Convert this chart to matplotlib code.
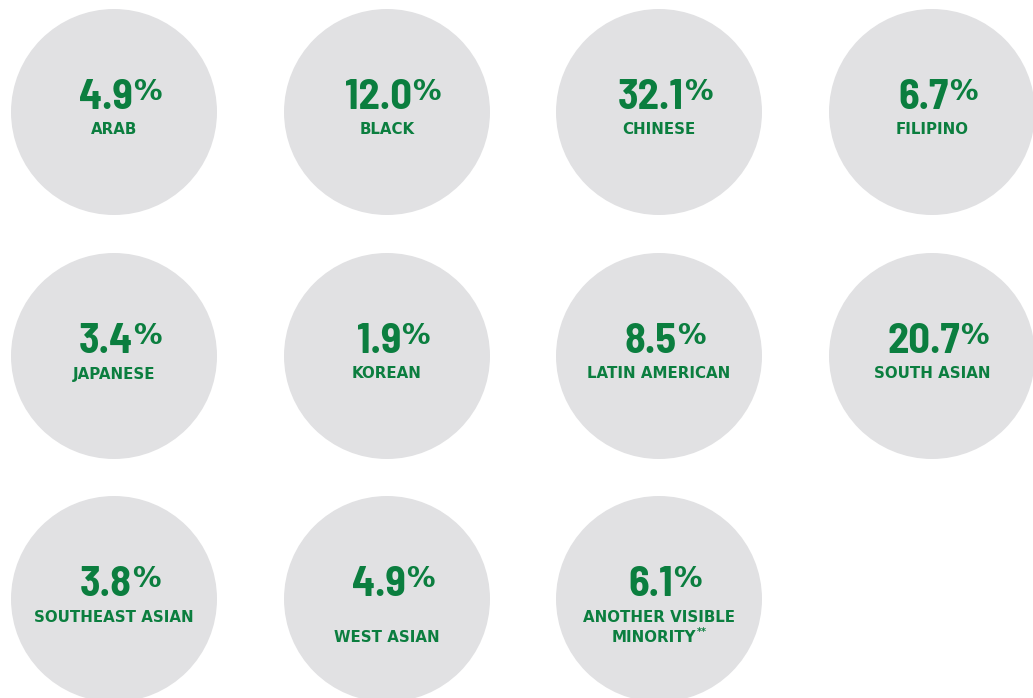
import warnings
import logging
import matplotlib
matplotlib.use("Agg")
import matplotlib.pyplot as plt
from matplotlib.patches import Circle

logging.getLogger("matplotlib.font_manager").setLevel(logging.ERROR)
warnings.filterwarnings("ignore")

categories = ["ARAB", "BLACK", "CHINESE", "FILIPINO",
              "JAPANESE", "KOREAN", "LATIN AMERICAN", "SOUTH ASIAN",
              "SOUTHEAST ASIAN", "\nWEST ASIAN", "ANOTHER VISIBLE\nMINORITY"]
footnotes = ["", "", "", "", "", "", "", "", "", "", "**"]
values = [4.9, 12.0, 32.1, 6.7, 3.4, 1.9, 8.5, 20.7, 3.8, 4.9, 6.1]

W, H = 1033, 698
GREEN = "#0b7e3f"
GRAY = "#e1e1e3"
NUM_FONT = ["Barlow Semi Condensed", "Roboto Condensed", "Liberation Sans"]
LBL_FONT = ["DejaVu Sans"]

fig = plt.figure(figsize=(W / 100, H / 100), dpi=100)
ax = fig.add_axes([0, 0, 1, 1])
ax.set_xlim(0, W)
ax.set_ylim(H, 0)
ax.axis("off")

col_x = [114, 387, 659, 932]
row_y = [112, 356, 599]
R = 103

fig.canvas.draw()
renderer = fig.canvas.get_renderer()


def width(t):
    return t.get_window_extent(renderer).width


for i, (cat, val, fn) in enumerate(zip(categories, values, footnotes)):
    r, c = divmod(i, 4)
    cx, cy = col_x[c], row_y[r]
    ax.add_patch(Circle((cx, cy), R, facecolor=GRAY, edgecolor="none"))
    nb = cy - 3
    t1 = ax.text(0, nb, f"{val:.1f}", fontsize=30.5, fontweight="bold",
                 family=NUM_FONT, color=GREEN, ha="left", va="baseline")
    t2 = ax.text(0, nb - 9, "%", fontsize=20.5, fontweight="bold",
                 family="DejaVu Sans", color=GREEN, ha="left", va="baseline")
    w1, w2 = width(t1), width(t2)
    gap = 0
    x0 = cx + 6 - (w1 + gap + w2) / 2
    t1.set_x(x0)
    t2.set_x(x0 + w1 + gap)

    lines = cat.split("\n")
    for k, line in enumerate(lines):
        if not line:
            continue
        yb = nb + 25.5 + k * 20.5
        lt = ax.text(0, yb, line, fontsize=10.8, fontweight="bold",
                     family=LBL_FONT, color=GREEN, ha="left", va="baseline")
        wl = width(lt)
        if fn and k == len(lines) - 1:
            ft = ax.text(0, yb - 7, fn, fontsize=7, fontweight="bold",
                         family=LBL_FONT, color=GREEN, ha="left",
                         va="baseline")
            wf = width(ft)
            xs = cx - (wl + 1 + wf) / 2
            lt.set_x(xs)
            ft.set_x(xs + wl + 1)
        else:
            lt.set_x(cx - wl / 2)

fig.savefig("out.png", dpi=100)
